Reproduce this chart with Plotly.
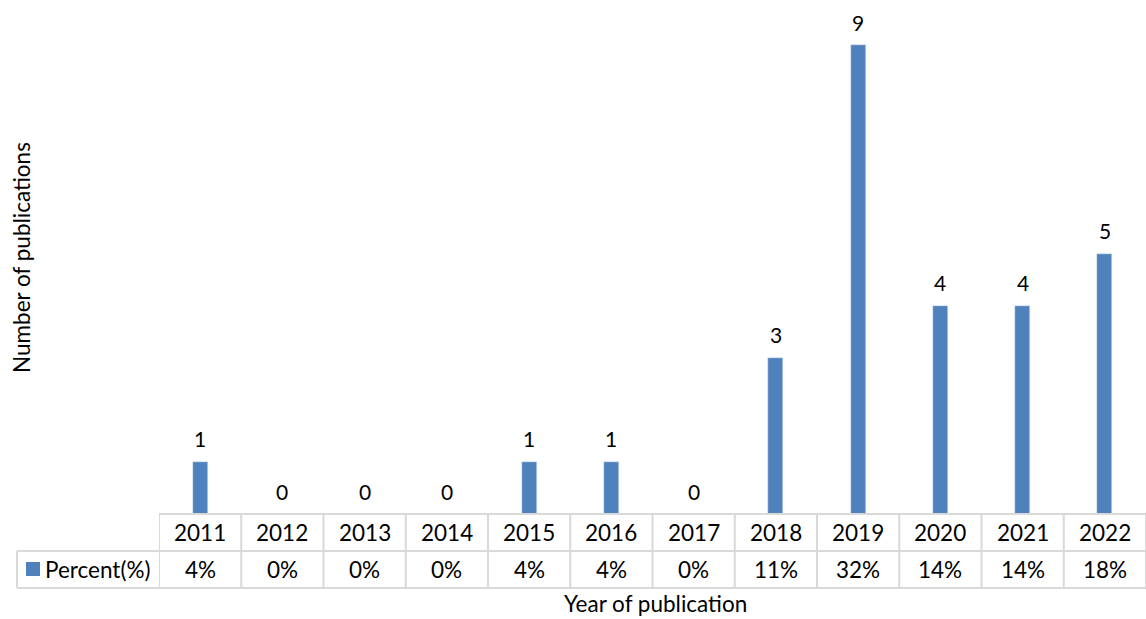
import plotly.graph_objects as go

# Publications per year with a percentage data table underneath
years = ["2011", "2012", "2013", "2014", "2015", "2016",
         "2017", "2018", "2019", "2020", "2021", "2022"]
counts = [1, 0, 0, 0, 1, 1, 0, 3, 9, 4, 4, 5]
percents = ["4%", "0%", "0%", "0%", "4%", "4%", "0%", "11%", "32%", "14%", "14%", "18%"]
series_name = "Percent(%)"

BAR_COLOR = "#4f81bd"
GRID = "#d9d9d9"
FONT = "Lato"
TXT = 22.5

W, H = 1146, 619
L, R, T, B = 159, 0, 0, 105
plot_w = W - L - R
plot_h = H - T - B


def py(px):
    """Pixel row (from top of page) to paper y."""
    return (H - B - px) / plot_h


def px_x(px):
    """Pixel column to paper x."""
    return (px - L) / plot_w


fig = go.Figure()
fig.add_trace(go.Bar(
    x=years, y=counts, marker_color=BAR_COLOR, width=0.18,
    name=series_name, showlegend=False, hoverinfo="x+y",
))

annotations = []
# value labels above bars
for i, c in enumerate(counts):
    annotations.append(dict(
        x=i, y=c, xref="x", yref="y", text=str(c), showarrow=False,
        yanchor="middle", yshift=23, font=dict(family=FONT, size=21, color="#000"),
    ))

row1_top, row1_bot, row2_bot = py(514), py(551), py(588)
shapes = []
line = dict(color=GRID, width=2)
# horizontal rules of the data table
shapes.append(dict(type="line", xref="paper", yref="paper", x0=0, x1=1, y0=row1_top, y1=row1_top, line=line))
shapes.append(dict(type="line", xref="paper", yref="paper", x0=px_x(17), x1=1, y0=row1_bot, y1=row1_bot, line=line))
shapes.append(dict(type="line", xref="paper", yref="paper", x0=px_x(17), x1=1, y0=row2_bot, y1=row2_bot, line=line))
# left edge of series label cell
shapes.append(dict(type="line", xref="paper", yref="paper", x0=px_x(17), x1=px_x(17), y0=row1_bot, y1=row2_bot, line=line))
# column separators
for i in range(len(years) + 1):
    shapes.append(dict(type="line", xref="x", yref="paper", x0=i - 0.5, x1=i - 0.5,
                       y0=row1_top, y1=row2_bot, line=line))

# table cell texts
for i, (yr, p) in enumerate(zip(years, percents)):
    annotations.append(dict(x=i, y=(row1_top + row1_bot) / 2, xref="x", yref="paper", text=yr,
                            showarrow=False, yanchor="middle",
                            font=dict(family=FONT, size=TXT, color="#000")))
    annotations.append(dict(x=i, y=(row1_bot + row2_bot) / 2, xref="x", yref="paper", text=p,
                            showarrow=False, yanchor="middle",
                            font=dict(family=FONT, size=TXT, color="#000")))

# legend key + series name
shapes.append(dict(type="rect", xref="paper", yref="paper", x0=px_x(26), x1=px_x(40),
                   y0=py(576), y1=py(562), fillcolor=BAR_COLOR, line=dict(width=0)))
annotations.append(dict(x=px_x(43), y=(row1_bot + row2_bot) / 2, xref="paper", yref="paper",
                        text=series_name, showarrow=False, xanchor="left", yanchor="middle",
                        font=dict(family=FONT, size=TXT, color="#000")))

# axis titles
annotations.append(dict(x=px_x(655), y=py(619), xref="paper", yref="paper",
                        text="Year of publication", showarrow=False, yanchor="bottom",
                        font=dict(family=FONT, size=TXT, color="#000")))
annotations.append(dict(x=px_x(21), y=py(258), xref="paper", yref="paper",
                        text="Number of publications", showarrow=False, textangle=-90,
                        xanchor="center", yanchor="middle",
                        font=dict(family=FONT, size=TXT, color="#000")))

fig.update_layout(
    width=W, height=H,
    margin=dict(l=L, r=R, t=T, b=B),
    paper_bgcolor="white", plot_bgcolor="white",
    xaxis=dict(type="category", showticklabels=False, showgrid=False, zeroline=False,
               showline=False, ticks="", range=[-0.5, len(years) - 0.5]),
    yaxis=dict(showticklabels=False, showgrid=False, zeroline=False, showline=False,
               ticks="", range=[0, 514 / 52.1]),
    annotations=annotations,
    shapes=shapes,
    bargap=0,
)

fig.write_html("out.html", config={"displayModeBar": False})
